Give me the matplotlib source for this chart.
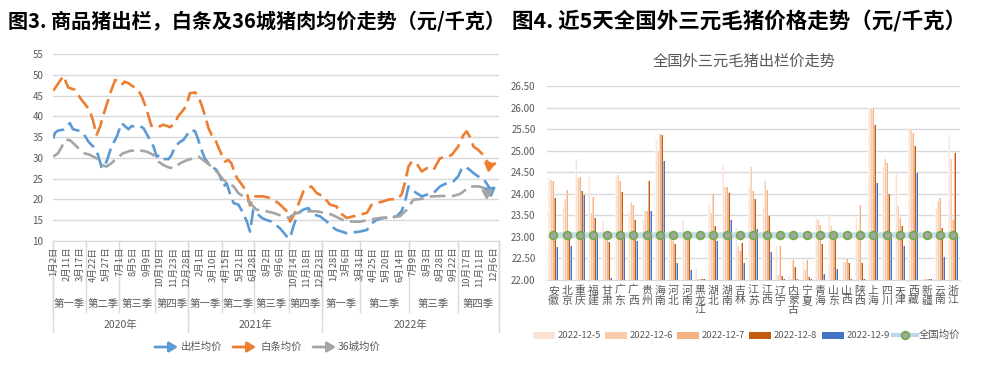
import matplotlib
matplotlib.use('Agg')
import matplotlib.pyplot as plt
import matplotlib.colors as mcolors
import numpy as np
from matplotlib.patches import Rectangle
from matplotlib.lines import Line2D

plt.rcParams['font.family'] = ['Noto Sans CJK SC', 'DejaVu Sans']

GRAY_TXT = '#595959'
GRID = '#d9d9d9'

# ---------------- Left chart data ----------------
date_labels = ['1月2日', '2月11日', '3月17日', '4月22日', '5月27日', '7月1日', '8月5日', '9月9日',
               '10月19日', '11月23日', '12月28日', '2月1日', '3月10日', '4月15日', '5月21日', '6月28日',
               '8月2日', '9月6日', '10月14日', '11月18日', '12月23日', '1月28日', '3月6日', '3月31日',
               '4月25日', '5月20日', '6月14日', '7月9日', '8月3日', '8月28日', '9月22日', '10月17日',
               '11月11日', '12月6日']
quarter_names = ['第一季', '第二季', '第三季', '第四季'] * 3
quarter_bounds = [-0.5, 61.5, 123.5, 190.5, 253.5, 315.5, 376.5, 441.5, 504.5, 575.5, 666.5, 758.5, 835.5]
year_names = ['2020年', '2021年', '2022年']
year_bounds = [-0.5, 253.5, 504.5, 835.5]

out_idx = [0, 3, 9, 19, 25, 31, 37, 47, 56, 66,
           75, 84, 91, 100, 109, 119, 128, 134, 141, 147,
           156, 163, 169, 178, 188, 194, 200, 206, 216, 222,
           228, 238, 244, 253, 259, 266, 272, 278, 284, 291,
           297, 306, 313, 319, 325, 331, 338, 347, 356, 363,
           369, 375, 381, 391, 400, 409, 425, 438, 444, 450,
           459, 469, 478, 488, 500, 513, 522, 531, 541, 550,
           563, 575, 588, 597, 606, 619, 631, 644, 653, 659,
           666, 672, 681, 691, 700, 713, 725, 738, 750, 759,
           766, 772, 781, 788, 797, 806, 816, 822, 830]
out_val = [34.7, 36, 36.6, 36.8, 37.4, 38.4, 36.9, 36.6, 36, 33.9,
           32.7, 30.7, 27.5, 29.1, 32.7, 35.1, 38.4, 37.7, 36.9, 37.7,
           37.4, 37.6, 37.2, 35.1, 32.7, 30.3, 30.7, 29.7, 29.7, 30.7,
           32.7, 33.9, 34.3, 36, 36.8, 36.4, 34.3, 31.9, 29.9, 28.7,
           27.9, 27.1, 25.5, 23.1, 23.9, 21.5, 19.1, 18.7, 16.7, 14.6,
           12.2, 17.5, 16.7, 15.5, 15, 14.6, 13, 11, 10.6, 13.4,
           16.7, 17.5, 17.9, 16.3, 15.9, 14.6, 13.4, 12.6, 12.2, 11.8,
           12, 12.2, 12.6, 14.2, 15, 15.5, 15.5, 15.9, 17.1, 19.1,
           23.1, 22.3, 21.5, 20.7, 21.1, 21.5, 23.1, 23.9, 24.3, 25.5,
           27.5, 27.9, 27.1, 26.3, 25.5, 25.1, 23.1, 22.3, 23.1]

bt_idx = [0, 19, 28, 41, 53, 63, 69, 75, 81, 88,
          94, 100, 109, 116, 122, 128, 134, 141, 150, 159,
          166, 172, 178, 184, 194, 200, 206, 213, 219, 228,
          234, 244, 250, 256, 266, 272, 278, 284, 291, 297,
          303, 309, 316, 322, 328, 334, 341, 347, 356, 363,
          369, 375, 381, 394, 406, 422, 438, 444, 453, 463,
          469, 484, 494, 506, 519, 531, 538, 550, 563, 575,
          588, 597, 609, 619, 631, 644, 653, 659, 666, 672,
          681, 691, 700, 713, 725, 738, 747, 759, 769, 775,
          781, 788, 797, 806, 813, 822, 830]
bt_val = [46.2, 49.8, 47, 46.4, 44, 42.4, 41.2, 38.8, 35.5, 37.6,
          40.4, 42.8, 46.4, 48.8, 48.4, 47.6, 48.4, 48, 47.2, 46.4,
          44.8, 42.8, 40.4, 37.7, 38, 37.6, 38, 37.7, 37.4, 38.4,
          40, 41.6, 42.8, 45.6, 45.8, 44.8, 42.8, 40.4, 37.2, 35.5,
          34.7, 32.7, 30.7, 29.1, 29.5, 28.7, 25.9, 24.7, 23.1, 21.5,
          18.5, 20.7, 20.7, 20.7, 20.3, 19.1, 17.1, 14.6, 16.7, 19.9,
          21.9, 23.1, 21.5, 20.7, 18.7, 18.3, 16.7, 15.5, 15.9, 16.3,
          16.7, 18.7, 19.2, 19.5, 20, 20, 21.1, 23.9, 27.9, 29.1,
          28.7, 26.7, 27.5, 27.1, 29.9, 30.3, 30.7, 32.7, 35.5, 36.4,
          35.1, 32.7, 31.9, 30.7, 29.1, 28.3, 28.7]

c36_idx = [0, 9, 16, 22, 31, 41, 50, 59, 69, 81,
           91, 100, 109, 119, 131, 144, 163, 175, 188, 197,
           206, 216, 225, 238, 250, 263, 272, 281, 291, 300,
           309, 319, 328, 338, 347, 356, 366, 375, 381, 400,
           413, 428, 441, 450, 459, 475, 494, 509, 522, 541,
           556, 575, 594, 613, 631, 650, 663, 675, 691, 709,
           731, 750, 763, 781, 797, 809, 819, 825]
c36_val = [30.3, 31.1, 32.7, 34.3, 34.3, 33.1, 31.9, 31.1, 30.7, 29.9,
           28.3, 27.9, 28.7, 29.9, 31.1, 31.7, 31.8, 31.5, 30.7, 29.1,
           28.3, 27.7, 27.5, 28.7, 29.4, 29.9, 30.3, 29.5, 28.5, 27.5,
           26.3, 24.7, 23.9, 23.1, 21.5, 20.7, 19.5, 18.3, 17.5, 17.1,
           16.7, 16, 15.5, 16.3, 16.7, 17.1, 17.1, 16.7, 16.3, 15.1,
           14.6, 14.6, 15.1, 15.5, 15.6, 15.9, 17.5, 19.9, 20.1, 20.7,
           20.8, 20.8, 21.3, 23.1, 23.1, 22.7, 21.9, 22.3]

left_series = ['出栏均价', '白条均价', '36城均价']
left_colors = ['#5b9bd5', '#ed7d31', '#a5a5a5']

# ---------------- Right chart data ----------------
provinces = ['安徽', '北京', '重庆', '福建', '甘肃', '广东', '广西', '贵州', '海南', '河北', '河南',
             '黑龙江', '湖北', '湖南', '吉林', '江苏', '江西', '辽宁', '内蒙古', '宁夏', '青海', '山东',
             '山西', '陕西', '上海', '四川', '天津', '西藏', '新疆', '云南', '浙江']
p_1205 = [24.37, 23.70, 24.81, 24.40, 23.36, 24.39, 23.57, 23.39, 25.25, 23.16, 23.39, 22.27, 23.74, 24.67, 23.23,
          24.19, 23.67, 22.79, 22.09, 22.43, 23.43, 23.54, 22.42, 23.44, 26.00, 24.62, 24.47, 25.54, 22.02, 23.67, 25.36]
p_1206 = [24.33, 23.87, 24.37, 23.55, 22.95, 24.43, 23.81, 23.60, 24.97, 22.92, 23.05, 22.01, 23.55, 24.16, 22.78,
          24.63, 24.29, 22.11, 22.01, 22.22, 23.40, 23.26, 22.41, 23.16, 26.00, 24.80, 23.72, 25.50, 22.02, 23.84, 24.82]
p_1207 = [24.29, 24.09, 24.39, 23.93, 22.92, 24.29, 23.74, 23.60, 25.39, 22.90, 23.03, 22.01, 23.99, 24.16, 22.67,
          24.07, 24.08, 22.79, 22.47, 22.47, 23.27, 23.00, 22.49, 23.74, 26.00, 24.72, 23.43, 25.42, 22.02, 23.91, 23.39]
p_1208 = [23.89, 23.05, 24.07, 23.44, 22.87, 24.04, 23.39, 24.30, 25.37, 22.83, 23.03, 22.01, 23.25, 24.01, 22.86,
          23.87, 23.48, 22.09, 22.30, 22.07, 22.83, 22.95, 22.38, 22.40, 25.59, 24.00, 23.25, 25.11, 22.02, 23.20, 24.94]
p_1209 = [22.76, 22.78, 23.97, 23.01, 22.03, 23.04, 22.89, 23.60, 24.76, 22.39, 22.23, 22.01, 22.89, 23.39, 22.40,
          23.18, 22.64, 22.01, 22.01, 22.01, 22.13, 22.25, 22.01, 22.01, 24.24, 22.96, 22.79, 24.49, 22.02, 22.53, 23.00]
nat_avg = [23.05] * len(provinces)
bar_names = ['2022-12-5', '2022-12-6', '2022-12-7', '2022-12-8', '2022-12-9']
bar_colors = ['#fbe3d4', '#f8cbad', '#f4b183', '#c55a11', '#4472c4']

# ---------------- Figure ----------------
W, H = 994, 368
fig = plt.figure(figsize=(W / 100, H / 100), dpi=100)


def ax_rect(x0, y0, x1, y1):
    return [x0 / W, 1 - y1 / H, (x1 - x0) / W, (y1 - y0) / H]


def tint(c, f=0.5):
    r, g, b = mcolors.to_rgb(c)
    return (r + (1 - r) * f, g + (1 - g) * f, b + (1 - b) * f)


# ---- Left chart ----
L_TOP, L_BOT = 54.3, 240.7
axL = fig.add_axes(ax_rect(53, L_TOP, 498.9, L_BOT))
axL.set_xlim(-0.5, 835.5)
axL.set_ylim(10, 55)
axL.set_yticks(np.arange(10, 56, 5))
axL.tick_params(axis='y', length=0, labelsize=7, labelcolor=GRAY_TXT, pad=7)
axL.set_xticks([])
axL.grid(axis='y', color=GRID, lw=1)
axL.set_axisbelow(True)
for s in ['left', 'right', 'top']:
    axL.spines[s].set_visible(False)
axL.spines['bottom'].set_color(GRID)

for (xi, yv), c in zip([(out_idx, out_val), (bt_idx, bt_val), (c36_idx, c36_val)], left_colors):
    axL.plot(xi, yv, color=c, lw=1.9, ls=(0, (6, 2.4)), solid_capstyle='butt', dash_capstyle='butt')
    axL.annotate('', xy=(xi[-1], yv[-1]), xytext=(xi[-2], yv[-2]),
                 arrowprops=dict(arrowstyle='-|>,head_length=0.5,head_width=0.3', color=c, lw=1.9,
                                 shrinkA=0, shrinkB=0))

hL = L_BOT - L_TOP
xtr = axL.get_xaxis_transform()
for i, lab in enumerate(date_labels):
    axL.annotate(lab, xy=(i * 25, 0), xycoords=xtr, xytext=(0, -6), textcoords='offset pixels',
                 rotation=90, ha='center', va='top', fontsize=6.8, color=GRAY_TXT)
for b in quarter_bounds:
    axL.plot([b, b], [0, -(312 - L_BOT) / hL], transform=xtr, color=GRID, lw=1, clip_on=False)
for b in year_bounds:
    axL.plot([b, b], [0, -(332 - L_BOT) / hL], transform=xtr, color=GRID, lw=1, clip_on=False)
for k, q in enumerate(quarter_names):
    xm = (quarter_bounds[k] + quarter_bounds[k + 1]) / 2
    axL.text(xm, -(304 - L_BOT) / hL, q, transform=xtr, ha='center', va='center', fontsize=7.5, color=GRAY_TXT)
for k, yn in enumerate(year_names):
    xm = (year_bounds[k] + year_bounds[k + 1]) / 2
    axL.text(xm, -(325 - L_BOT) / hL, yn, transform=xtr, ha='center', va='center', fontsize=7.5, color=GRAY_TXT)

# ---- Right chart ----
R_TOP, R_BOT = 86.3, 279.7
axR = fig.add_axes(ax_rect(546.7, R_TOP, 960, R_BOT))
n = len(provinces)
x = np.arange(n)
axR.set_xlim(-0.5, n - 0.5)
axR.set_ylim(22, 26.5)
axR.set_yticks(np.arange(22, 26.51, 0.5))
axR.set_yticklabels([f'{v:.2f}' for v in np.arange(22, 26.51, 0.5)])
axR.tick_params(axis='y', length=0, labelsize=7, labelcolor=GRAY_TXT, pad=8)
axR.set_xticks([])
axR.grid(axis='y', color=GRID, lw=1)
axR.set_axisbelow(True)
for s in ['left', 'right', 'top']:
    axR.spines[s].set_visible(False)
axR.spines['bottom'].set_color(GRID)

bw = 0.146
offs = [-2 * bw, -bw, 0, bw, 2 * bw]
for vals, c, o in zip([p_1205, p_1206, p_1207, p_1208, p_1209], bar_colors, offs):
    # gradient-like fill: lighter left part, full colour on the right edge
    axR.bar(x + o, vals, width=bw, color=tint(c, 0.55), lw=0, zorder=2)
    axR.bar(x + o + bw * 0.25, vals, width=bw * 0.5, color=c, lw=0, zorder=2)
axR.plot(x, nat_avg, color='#bdd7ee', lw=4, alpha=0.8, zorder=3, solid_capstyle='butt')
axR.plot(x, nat_avg, ls='none', marker='o', ms=5.5, mfc='#a5a5a5', mec='#70ad47', mew=1.3, zorder=4)

hR = R_BOT - R_TOP
xtrR = axR.get_xaxis_transform()
for i, p in enumerate(provinces):
    axR.annotate('\n'.join(p), xy=(i, 0), xycoords=xtrR, xytext=(0, -6), textcoords='offset pixels',
                 ha='center', va='top', fontsize=7.8, color=GRAY_TXT, linespacing=0.97)

# ---- Overlay for titles / legends (pixel coordinates) ----
ov = fig.add_axes([0, 0, 1, 1])
ov.set_xlim(0, W)
ov.set_ylim(H, 0)
ov.axis('off')

ov.text(8, 21, '图3. 商品猪出栏，白条及36城猪肉均价走势（元/千克）', fontsize=14.5, fontweight='bold',
        va='center', ha='left', color='black')
ov.text(512, 21, '图4. 近5天全国外三元毛猪价格走势（元/千克）', fontsize=15.5, fontweight='bold',
        va='center', ha='left', color='black')
ov.text(744, 61, '全国外三元毛猪出栏价走势', fontsize=11, va='center', ha='center', color=GRAY_TXT)

# left legend
leg_x = [(155, 181), (233, 260), (313, 338)]
for (ax0, tx), c, name in zip(leg_x, left_colors, left_series):
    ov.annotate('', xy=(ax0 + 23, 347), xytext=(ax0, 347),
                arrowprops=dict(arrowstyle='-|>,head_length=0.5,head_width=0.3', color=c, lw=2,
                                shrinkA=0, shrinkB=0))
    ov.text(tx, 347, name, fontsize=7.5, va='center', ha='left', color=GRAY_TXT)

# right legend
sw_x = [533, 605, 677, 749, 822]
for sx, c, name in zip(sw_x, bar_colors, bar_names):
    ov.add_patch(Rectangle((sx, 331.5), 22, 7, color=c, lw=0))
    ov.text(sx + 25, 335, name, fontsize=6.8, va='center', ha='left', color=GRAY_TXT)
ov.add_line(Line2D([893, 917], [335, 335], color='#bdd7ee', lw=3))
ov.add_line(Line2D([905], [335], ls='none', marker='o', ms=5.5, mfc='#a5a5a5', mec='#70ad47', mew=1.3))
ov.text(919, 335, '全国均价', fontsize=7.5, va='center', ha='left', color=GRAY_TXT)

fig.savefig('out.png', dpi=100, facecolor='white')
